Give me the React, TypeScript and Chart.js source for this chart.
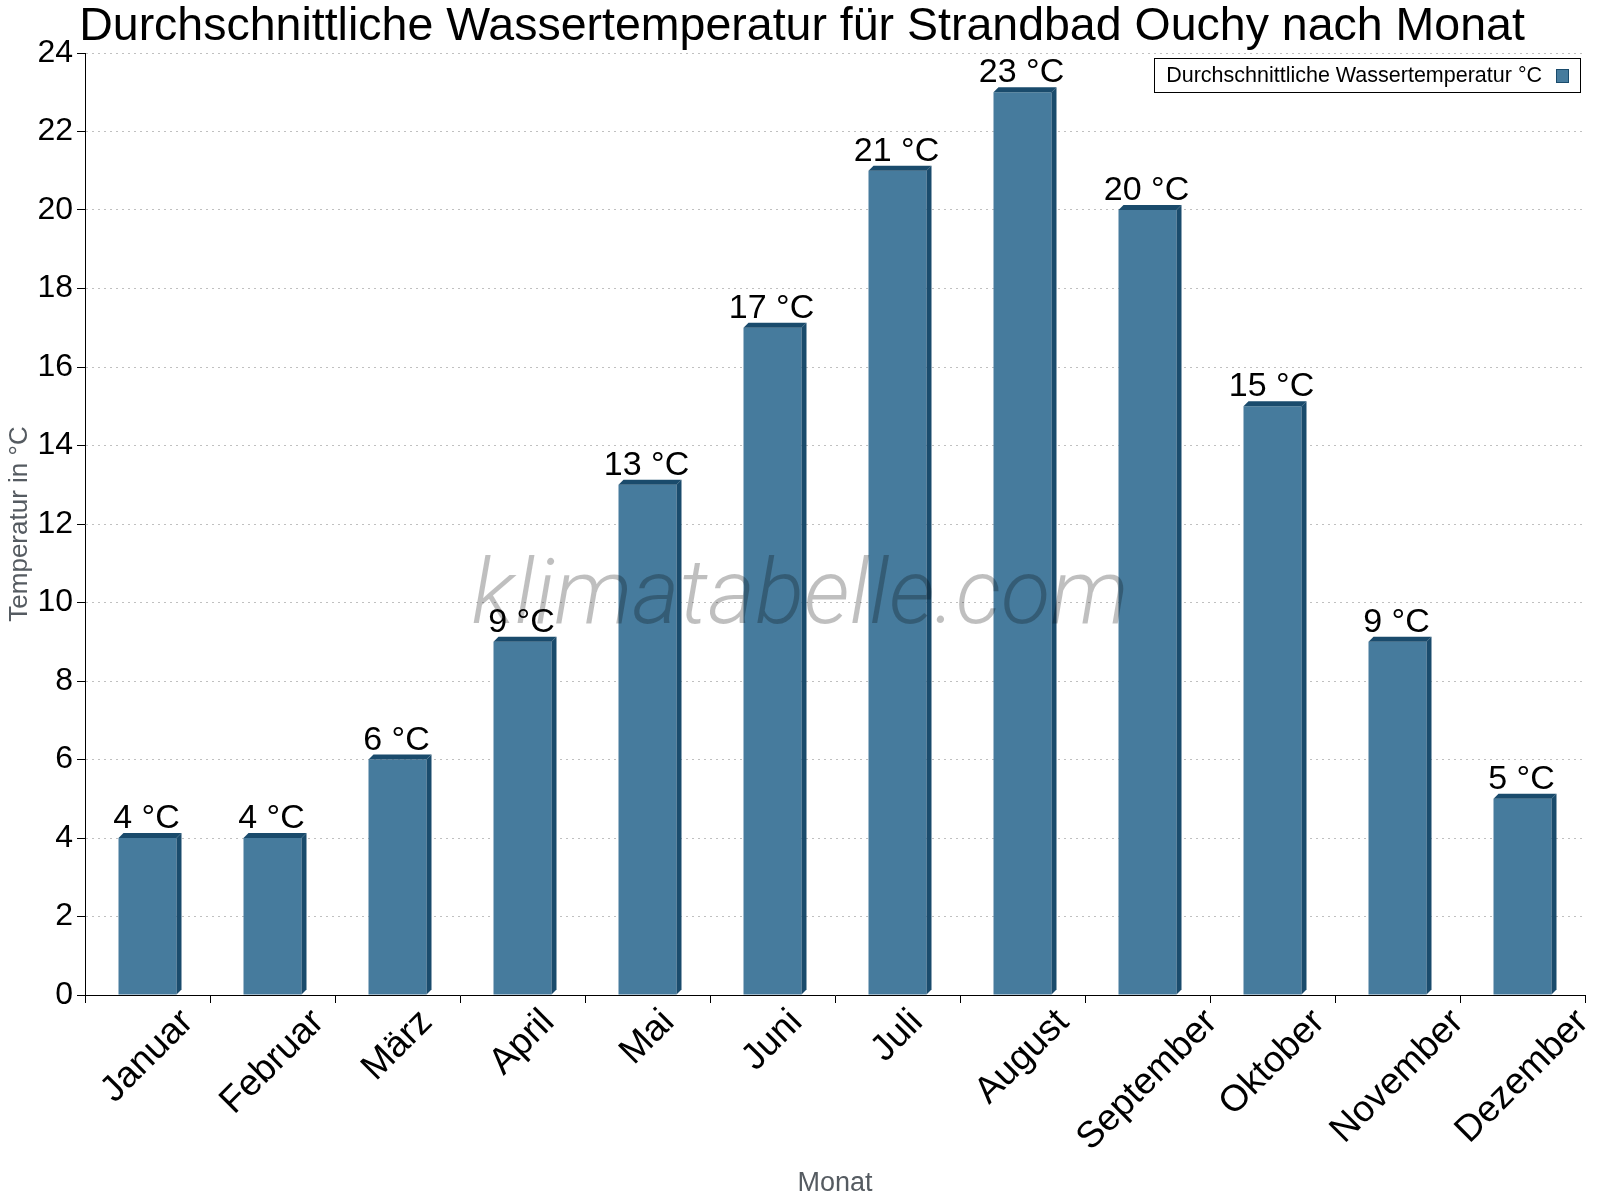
import React, { useEffect, useRef } from "react";
import { Chart, registerables } from "chart.js";

Chart.register(...registerables);

const months = ["Januar", "Februar", "März", "April", "Mai", "Juni", "Juli", "August", "September", "Oktober", "November", "Dezember"];
const waterTemps = [4, 4, 6, 9, 13, 17, 21, 23, 20, 15, 9, 5];
const yMin = 0;
const yMax = 24;
const yStep = 2;
const unitSuffix = " °C";
const chartTitle = "Durchschnittliche Wassertemperatur für Strandbad Ouchy nach Monat";
const seriesLabel = "Durchschnittliche Wassertemperatur °C";
const yAxisTitle = "Temperatur in °C";
const xAxisTitle = "Monat";
const watermark = "klimatabelle.com";

const FONT = "Arial, 'Liberation Sans', Helvetica, sans-serif";
const WM_FONT = "Roboto, 'Open Sans', 'Liberation Sans', sans-serif";
const FRONT = "#467b9d";
const DARK = "#1a4b6c";
const DEPTH = 5;

const decorPlugin = {
  id: "decor",
  beforeDraw(chart: any) {
    const ctx = chart.ctx;
    ctx.save();
    ctx.fillStyle = "#ffffff";
    ctx.fillRect(0, 0, chart.width, chart.height);
    ctx.fillStyle = "#000";
    ctx.font = `46.5px ${FONT}`;
    ctx.textAlign = "center";
    ctx.textBaseline = "alphabetic";
    ctx.fillText(chartTitle, chart.width / 2 + 2, 40);
    ctx.restore();
  },
  afterDatasetsDraw(chart: any) {
    const ctx = chart.ctx;
    const meta = chart.getDatasetMeta(0);
    const area = chart.chartArea;
    ctx.save();
    meta.data.forEach((bar: any, i: number) => {
      const { x, y, base, width } = bar.getProps(["x", "y", "base", "width"], true);
      const left = x - width / 2;
      const right = x + width / 2;
      ctx.fillStyle = DARK;
      // top face
      ctx.beginPath();
      ctx.moveTo(left, y);
      ctx.lineTo(left + DEPTH, y - DEPTH);
      ctx.lineTo(right + DEPTH, y - DEPTH);
      ctx.lineTo(right, y);
      ctx.closePath();
      ctx.fill();
      // side face
      ctx.beginPath();
      ctx.moveTo(right, y);
      ctx.lineTo(right + DEPTH, y - DEPTH);
      ctx.lineTo(right + DEPTH, base - DEPTH);
      ctx.lineTo(right, base);
      ctx.closePath();
      ctx.fill();
      // value label
      ctx.fillStyle = "#000";
      ctx.font = `34px ${FONT}`;
      ctx.textAlign = "center";
      ctx.textBaseline = "alphabetic";
      ctx.fillText(`${waterTemps[i]}${unitSuffix}`, x - 1, y - DEPTH - 5);
    });

    // custom rotated x labels (centered under each category)
    const xs = chart.scales.x;
    const fs = 37;
    ctx.font = `${fs}px ${FONT}`;
    ctx.fillStyle = "#000";
    ctx.textAlign = "center";
    ctx.textBaseline = "middle";
    chart.data.labels.forEach((lab: string, i: number) => {
      const cx = xs.getPixelForValue(i);
      const w = ctx.measureText(lab).width;
      const half = ((w + fs * 0.72) * Math.SQRT1_2) / 2;
      const cy = area.bottom + 12 + half;
      ctx.save();
      ctx.translate(cx, cy);
      ctx.rotate(-Math.PI / 4);
      ctx.fillText(lab, 0, 0);
      ctx.restore();
    });

    // watermark
    ctx.font = `italic 300 100px ${WM_FONT}`;
    const wm100 = ctx.measureText(watermark).width;
    const wmSize = (657 / wm100) * 100;
    ctx.font = `italic 300 ${wmSize.toFixed(1)}px ${WM_FONT}`;
    ctx.fillStyle = "rgba(0,0,0,0.25)";
    ctx.textAlign = "center";
    ctx.textBaseline = "alphabetic";
    ctx.fillText(watermark, 800, 623);

    // legend
    ctx.font = `21.5px ${FONT}`;
    const tw = ctx.measureText(seriesLabel).width;
    const boxH = 34;
    const boxW = 12 + tw + 14 + 12 + 12;
    const bx = area.right - 5 - boxW;
    const by = area.top + 5;
    ctx.fillStyle = "#fff";
    ctx.fillRect(bx, by, boxW, boxH);
    ctx.strokeStyle = "#000";
    ctx.lineWidth = 1;
    ctx.strokeRect(Math.round(bx) + 0.5, Math.round(by) + 0.5, Math.round(boxW), boxH);
    ctx.fillStyle = "#000";
    ctx.textAlign = "left";
    ctx.textBaseline = "middle";
    ctx.fillText(seriesLabel, bx + 12, by + boxH / 2 + 1);
    const sx = bx + 12 + tw + 14;
    ctx.fillStyle = FRONT;
    ctx.fillRect(sx, by + 11, 12, 13);
    ctx.strokeStyle = DARK;
    ctx.strokeRect(Math.round(sx) + 0.5, by + 11.5, 12, 13);
    ctx.restore();
  },
};

export default function App() {
  const canvasRef = useRef<HTMLCanvasElement | null>(null);

  useEffect(() => {
    const canvas = canvasRef.current;
    if (!canvas) return;
    const chart = new Chart(canvas, {
      type: "bar",
      data: {
        labels: months,
        datasets: [
          {
            label: seriesLabel,
            data: waterTemps,
            backgroundColor: FRONT,
            borderWidth: 0,
            categoryPercentage: 1,
            barPercentage: 0.464,
          },
        ],
      },
      plugins: [decorPlugin],
      options: {
        responsive: false,
        animation: false,
        devicePixelRatio: 1,
        layout: { padding: { top: 53, right: 15, left: 0, bottom: 0 } },
        plugins: {
          legend: { display: false },
          tooltip: { enabled: false },
          title: { display: false },
        },
        scales: {
          x: {
            type: "category",
            offset: true,
            grid: {
              display: true,
              offset: true,
              drawOnChartArea: false,
              drawTicks: true,
              tickLength: 8,
              color: "#000",
              tickColor: "#000",
            },
            border: { display: true, color: "#000", width: 1 },
            ticks: { display: false },
            title: {
              display: true,
              text: xAxisTitle,
              color: "#555b61",
              font: { size: 27, family: FONT },
              padding: { top: 0, bottom: 0 },
            },
            afterFit: (s: any) => {
              s.height = 205;
            },
          },
          y: {
            min: yMin,
            max: yMax,
            ticks: {
              stepSize: yStep,
              color: "#000",
              font: { size: 32, family: FONT },
              padding: 4,
            },
            grid: {
              color: "#c0c0c0",
              lineWidth: 1,
              tickColor: "#000",
              tickLength: 8,
              tickBorderDash: [],
            },
            border: { display: true, color: "#000", width: 1, dash: [2, 4] },
            title: {
              display: true,
              text: yAxisTitle,
              color: "#555b61",
              font: { size: 26, family: FONT },
              padding: { top: 4, bottom: 0 },
            },
            afterFit: (s: any) => {
              s.width = 85;
            },
          },
        },
      },
    });
    return () => chart.destroy();
  }, []);

  return (
    <div style={{ position: "fixed", left: 0, top: 0, width: 1600, height: 1200, background: "#fff" }}>
      <canvas ref={canvasRef} width={1600} height={1200} style={{ width: 1600, height: 1200, display: "block" }} />
    </div>
  );
}
